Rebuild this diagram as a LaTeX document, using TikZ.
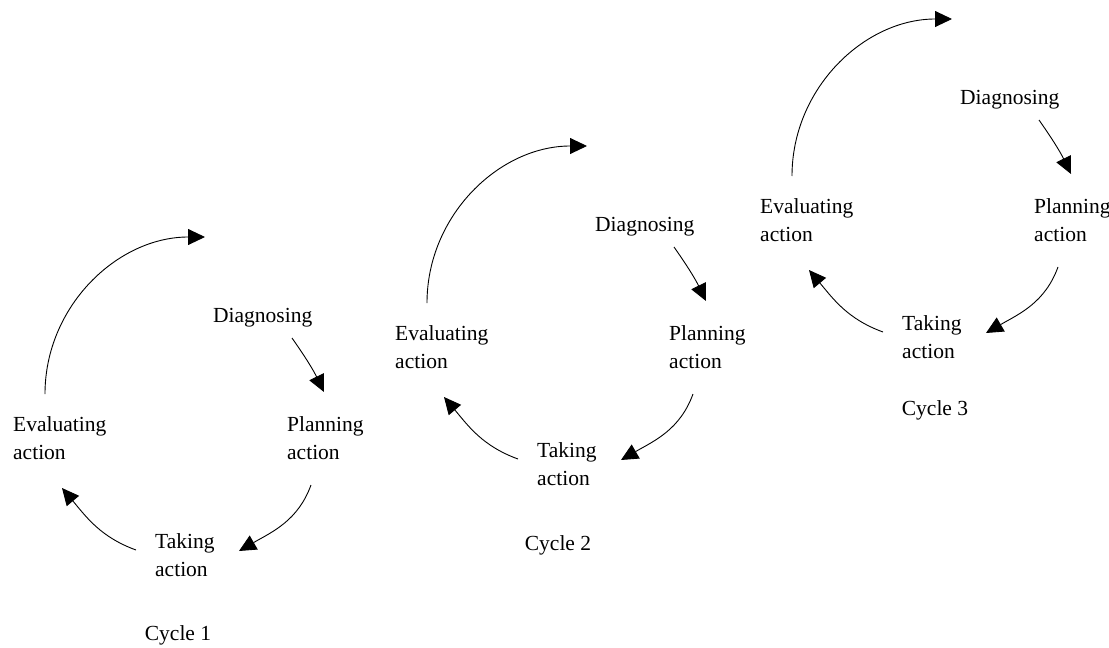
\documentclass[tikz,border=0pt]{standalone}
\usepackage{fontspec}
\setmainfont{Liberation Serif}
\usetikzlibrary{arrows.meta}

\tikzset{
  lbl/.style={anchor=north west, inner sep=0pt, align=left,
              font=\fontsize{21.5}{28}\selectfont},
  cyclbl/.style={anchor=north, inner sep=0pt,
              font=\fontsize{21.5}{28}\selectfont},
  arr/.style={draw, line width=0.9pt,
              -{Triangle[length=17pt,width=16pt]}},
  % one action-research cycle; origin = left end of "Diagnosing"
  cycle/.pic={
    \node[lbl] (-diag) at (0,8)       {Diagnosing};
    \node[lbl] (-plan) at (74,-100)   {Planning\\action};
    \node[lbl] (-take) at (-58,-217)  {Taking\\action};
    \node[lbl] (-eval) at (-200,-100) {Evaluating\\action};
    \coordinate (-next) at (-8,79);
    \draw[arr] ([shift={(79,-30)}]-diag.north west) to[out=-55,in=116]
               ([shift={(37,24)}]-plan.north west);
    \draw[arr] ([shift={(24,-69)}]-plan.north west) to[out=-110,in=30]
               ([shift={(84,-18)}]-take.north west);
    \draw[arr] ([shift={(-19,-17)}]-take.north west) to[out=160,in=-50]
               ([shift={(49,-72)}]-eval.north west);
    \draw[arr] ([shift={(32,22)}]-eval.north west) to[out=90,in=180] (-next);
  }
}

\begin{document}
\begin{tikzpicture}[x=1pt,y=1pt]
  \useasboundingbox (0,0) rectangle (1109,-648);
  \fill[white] (0,0) rectangle (1109,-648);

  \pic (c1) at (213,-316) {cycle};
  \pic (c2) at (595,-225) {cycle};
  \pic (c3) at (960,-98)  {cycle};

  \node[cyclbl] (cyc1) at (178,-625) {Cycle 1};
  \node[cyclbl] (cyc2) at (558,-535) {Cycle 2};
  \node[cyclbl] (cyc3) at (935,-400) {Cycle 3};
\end{tikzpicture}
\end{document}
